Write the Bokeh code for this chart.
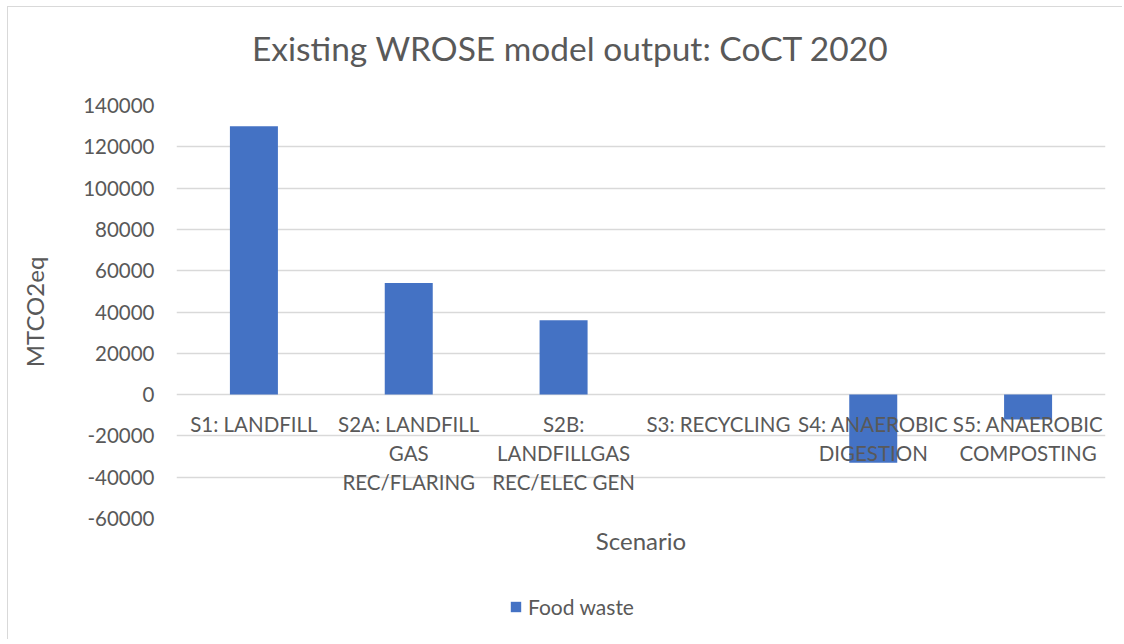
from bokeh.plotting import figure
from bokeh.layouts import column
from bokeh.models import (ColumnDataSource, FactorRange, Legend, LegendItem, Range1d, FixedTicker,
                          NumeralTickFormatter, Label)
from bokeh.embed import file_html
from bokeh.resources import INLINE
from bokeh.core.properties import value

title_text = "Existing WROSE model output: CoCT 2020"
categories = ["S1", "S2A", "S2B", "S3", "S4", "S5"]
labels = ["S1: LANDFILL", "S2A: LANDFILL\nGAS\nREC/FLARING", "S2B:\nLANDFILLGAS\nREC/ELEC GEN",
          "S3: RECYCLING", "S4: ANAEROBIC\nDIGESTION", "S5: ANAEROBIC\nCOMPOSTING"]
food_waste = [130000, 54000, 36000, 0, -33000, -12000]
y_ticks = [-60000, -40000, -20000, 0, 20000, 40000, 60000, 80000, 100000, 120000, 140000]

FONT = "Lato"
GRAY = "#595959"
BAR = "#4472C4"
W = 1122

src = ColumnDataSource(dict(cat=categories, val=food_waste, lab=labels, zero=[0] * len(categories)))

# title strip
tf = figure(width=W, height=80, x_range=FactorRange(*categories), y_range=Range1d(0, 1),
            output_backend="svg", toolbar_location=None, min_border=0)
tf.axis.visible = False
tf.grid.visible = False
tf.outline_line_color = None
tf.background_fill_alpha = 0
tf.border_fill_alpha = 0
tf.add_layout(Label(x=394, y=33, x_units="screen", y_units="screen", text=title_text,
                    text_align="center", text_baseline="middle", text_font=FONT,
                    text_font_size="33.5px", text_color=GRAY))

p = figure(width=W, height=489, x_range=tf.x_range,
           y_range=Range1d(-60000, 140000), output_backend="svg", toolbar_location=None,
           min_border_left=176, min_border_right=17, min_border_top=25, min_border_bottom=51)
p.outline_line_color = None
p.background_fill_color = "white"
p.border_fill_alpha = 0

p.vbar(x="cat", top="val", bottom=0, width=0.31, source=src, fill_color=BAR, line_color=None)

p.text(x="cat", y="zero", text="lab", source=src, text_align="center", text_baseline="top",
       y_offset=17, text_font=value(FONT), text_font_size="20.5px", text_color=GRAY,
       text_line_height=1.22)

p.yaxis.ticker = FixedTicker(ticks=y_ticks)
p.yaxis.formatter = NumeralTickFormatter(format="0")
p.yaxis.axis_line_color = None
p.yaxis.major_tick_line_color = None
p.yaxis.minor_tick_line_color = None
p.yaxis.major_tick_out = 0
p.yaxis.major_label_standoff = 22
p.yaxis.major_label_text_font = FONT
p.yaxis.major_label_text_font_size = "20.5px"
p.yaxis.major_label_text_color = GRAY
p.yaxis.axis_label = "MTCO2eq"
p.yaxis.axis_label_text_font = FONT
p.yaxis.axis_label_text_font_size = "24px"
p.yaxis.axis_label_text_font_style = "normal"
p.yaxis.axis_label_text_color = GRAY
p.yaxis.axis_label_standoff = 31

p.xaxis.axis_line_color = None
p.xaxis.major_tick_line_color = None
p.xaxis.minor_tick_line_color = None
p.xaxis.major_tick_out = 0
p.xaxis.major_label_standoff = 0
p.xaxis.major_label_text_font_size = "1px"
p.xaxis.major_label_text_color = "white"
p.xaxis.axis_label = "Scenario"
p.xaxis.axis_label_text_font = FONT
p.xaxis.axis_label_text_font_size = "24px"
p.xaxis.axis_label_text_font_style = "normal"
p.xaxis.axis_label_text_color = GRAY
p.xaxis.axis_label_standoff = 3

p.xgrid.grid_line_color = None
p.ygrid.grid_line_color = "#d9d9d9"
p.ygrid.grid_line_width = 1.5

# legend strip (bars drawn outside its visible range; only the legend shows)
lf = figure(width=W, height=70, x_range=tf.x_range, y_range=Range1d(500000, 500001),
            output_backend="svg", toolbar_location=None, min_border=0)
lf.axis.visible = False
lf.grid.visible = False
lf.outline_line_color = None
lf.background_fill_alpha = 0
lf.border_fill_alpha = 0
lr = lf.vbar(x="cat", top="val", bottom=0, width=0.31, source=src, fill_color=BAR, line_color=None)
legend = Legend(items=[LegendItem(label="Food waste", renderers=[lr])], orientation="horizontal",
                location=(333, 20), border_line_color=None, background_fill_alpha=0,
                label_text_font=FONT, label_text_font_size="21px", label_text_color=GRAY,
                glyph_width=13, glyph_height=13, label_standoff=6, margin=0, padding=0)
lf.add_layout(legend)

layout = column(tf, p, lf, spacing=0)
layout.styles = {"box-shadow": "inset 7px 6px 0 0 white, inset 8px 7px 0 0 #d9d9d9"}

open("out.html", "w").write(file_html(layout, INLINE))
